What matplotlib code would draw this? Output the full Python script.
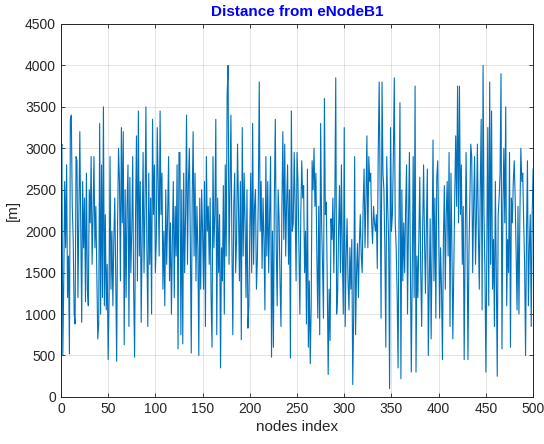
import numpy as np
import matplotlib
matplotlib.use("Agg")
import matplotlib.pyplot as plt

plt.rcParams['font.family'] = ['Liberation Sans', 'DejaVu Sans']

# Distance values [m], nodes 0..500
seg1 = [2950, 3050, 500, 1400, 2600, 1800, 2800, 1200, 1700, 520,
        3350, 3400, 2300, 1900, 1000, 880, 2900, 2850, 1200, 2200,
        3200, 2100, 900, 2600, 1800, 2400, 1150, 2700, 1300, 1100,
        2500, 2100, 2900, 1600, 2200, 2900, 1800, 2300, 1500, 700,
        880, 3300, 1000, 2800, 1200, 3500, 1100, 2200, 1050, 1600,
        450, 1200, 2900, 1300, 2000, 1100, 1900, 2400, 1500, 430,
        2100, 3000, 2600]
seg2 = [1400, 3250, 2100, 3200, 630, 2500, 1200, 2300, 2800, 850,
        2650, 1500, 2000, 2900, 1300, 480, 2200, 3150, 1400, 3450,
        1700, 2600, 900, 1900, 2950, 1500, 2300, 3500, 1800, 850,
        2700, 1600, 2400, 1000, 3350, 2200, 2800, 1500, 1900, 3250,
        2600, 1700, 3450, 2200, 2700, 1300, 2000, 1100, 2500, 1600,
        2200, 2900, 1400, 2100, 1000, 1900, 2600, 1200, 2300, 1700,
        2800, 580, 2950]
seg3 = [2950, 750, 2500, 640, 2700, 1500, 2200, 3400, 1600, 2600,
        3000, 1900, 530, 2400, 3200, 1700, 2700, 1400, 2300, 1800,
        500, 2400, 1300, 2500, 2000, 1300, 2600, 850, 2900, 2000,
        2300, 1600, 2400, 1200, 600, 2900, 1800, 2200, 3350, 750,
        2400, 1500, 2200, 350, 1800, 1400, 2550, 1000, 2800, 1700,
        3650, 4000, 1600, 2500, 3400, 1900, 750, 2300, 2700, 1500,
        1900, 3050]
seg4 = [2300, 1400, 2600, 690, 3250, 1700, 2700, 2100, 1200, 2500,
        830, 1100, 2000, 2700, 1500, 3300, 1600, 2300, 2500, 1300,
        1650, 2400, 3800, 2000, 2600, 1550, 2400, 1900, 1050, 2900,
        1700, 2600, 1500, 2200, 2900, 480, 2000, 600, 2400, 3350,
        1800, 1100, 2500, 2150, 1400, 850, 2300, 3200, 1900, 3050,
        1700, 2350, 2800, 1600, 2500, 470, 3450, 2000, 2100, 2950,
        2300, 1400, 2950]
seg5 = [2600, 1800, 1000, 2200, 2850, 2400, 2550, 1500, 2000, 880,
        2750, 600, 1400, 400, 1100, 2850, 2500, 3000, 2300, 2700,
        1700, 950, 2300, 750, 3300, 2100, 1600, 950, 3600, 2200,
        2350, 1400, 270, 1300, 680, 2150, 1900, 2400, 1500, 2300,
        3850, 1000, 1250, 2000, 2550, 1500, 2800, 1700, 1000, 3250,
        850, 1700, 2150, 1400, 1050, 1800, 1300, 1900, 150, 1000,
        2900, 750, 1500, 1850]
seg6 = [1200, 1850, 2200, 1700, 1500, 2300, 2750, 1800, 2400, 3150,
        1800, 2900, 2600, 2700, 2100, 1850, 2300, 2100, 2000, 2200,
        1550, 2950, 3800, 2500, 950, 3800, 2700, 2500, 1800, 600,
        2900, 2300, 1900, 100, 3250, 2000, 2200, 2900, 3850, 2100,
        1800, 1250, 350, 2200, 3550, 220, 2500, 1400, 2100, 1500,
        2300, 2800, 1000, 2100, 2950, 1600, 300, 1500, 2900, 1200,
        3750, 300, 1700, 1200]
seg7 = [1900, 2650, 1500, 850, 2000, 2800, 1900, 1250, 2100, 2750,
        500, 1300, 2150, 700, 1800, 3100, 1400, 2400, 950, 2650,
        2850, 2000, 950, 1800, 1300, 450, 1900, 2550, 1300, 2200,
        2600, 1700, 2950, 850, 2700, 1800, 700, 1600, 2400, 3150,
        2300, 3750, 2100, 3750, 2200, 2800, 1600, 2300, 450, 1800,
        2950, 2000, 450, 1700, 2400, 3050, 2900, 1500, 2300, 2900,
        1600, 2200, 3050]
seg8 = [2000, 1300, 2500, 3350, 1050, 4000, 2200, 1500, 300, 1800,
        3250, 1100, 3800, 1600, 3450, 1300, 1900, 850, 2600, 1500,
        250, 2200, 2400, 2700, 3900, 580, 2300, 3000, 2100, 3500,
        1100, 1900, 1500, 2950, 600, 2400, 2100, 2600, 2850, 2400,
        1700, 1050, 2300, 1000, 2200, 3000, 2600, 2700, 2100, 1600,
        500, 2000, 2850, 1100, 1800, 2200, 850, 2200, 2750]

distances = seg1 + seg2 + seg3 + seg4 + seg5 + seg6 + seg7 + seg8
node_index = np.arange(len(distances))

x_ticks = [0, 50, 100, 150, 200, 250, 300, 350, 400, 450, 500]
y_ticks = [0, 500, 1000, 1500, 2000, 2500, 3000, 3500, 4000, 4500]

fig = plt.figure(figsize=(5.44, 4.44), dpi=100, facecolor="white")
ax = fig.add_axes([0.112, 0.106, 0.868, 0.840])
ax.plot(node_index, distances, color="#0072BD", linewidth=0.8)

ax.set_xlim(0, 500)
ax.set_ylim(0, 4500)
ax.set_xticks(x_ticks)
ax.set_yticks(y_ticks)
ax.grid(True, color="#262626", alpha=0.15, linewidth=0.6)
ax.tick_params(direction="in", top=True, right=True, length=3,
               labelsize=10, colors="#262626", width=0.6)
for s in ax.spines.values():
    s.set_color("#262626")
    s.set_linewidth(0.7)

ax.set_title("Distance from eNodeB1", color="#0000FF", fontweight="bold",
             fontsize=11, pad=6)
ax.set_xlabel("nodes index", fontsize=11, color="#262626", labelpad=3)
ax.set_ylabel("[m]", fontsize=11, color="#262626", labelpad=4)

fig.savefig("out.png", dpi=100, facecolor="white")
